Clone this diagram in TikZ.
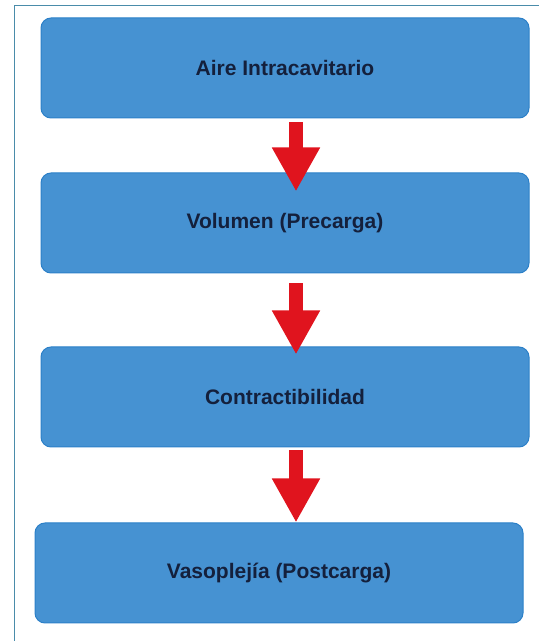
\documentclass[tikz,border=0pt]{standalone}
\usepackage{fontspec}
\setmainfont{Liberation Sans}
\usetikzlibrary{positioning,calc,arrows.meta}
\definecolor{boxfill}{RGB}{70,146,210}
\definecolor{boxedge}{RGB}{44,128,200}
\definecolor{boxtext}{RGB}{20,32,60}
\definecolor{arrowred}{RGB}{224,20,30}
\definecolor{framecol}{RGB}{74,140,170}
\begin{document}
\begin{tikzpicture}[x=1pt, y=1pt,
      every node/.style={rectangle, rounded corners=10pt, draw=boxedge, line width=1pt, fill=boxfill,
        minimum width=488pt, minimum height=100pt, inner sep=0pt,
        text=boxtext, font=\fontsize{21}{25}\selectfont\bfseries},
      flow/.style={arrowred, line width=14pt, -{Triangle[width=45pt, length=44pt]}}]
      \useasboundingbox (0,0) rectangle (539,641);
      \draw[framecol, line width=1.5pt] (14.5,0) |- (539,635.5);
      \node (aire) at (285,573) {Aire Intracavitario};
      \node (volumen) [below=54pt of aire] {Volumen (Precarga)};
      \node (contract) [below=73pt of volumen] {Contractibilidad};
      \node (vaso) [below=75pt of contract, xshift=-6pt] {Vasoplejía (Postcarga)};
      \draw[flow] ($(aire.south)+(11,-4)$) -- ($(volumen.north)+(11,-19)$);
      \draw[flow] ($(volumen.south)+(11,-10)$) -- ($(contract.north)+(11,-8)$);
      \draw[flow] ($(contract.south)+(11,-3)$) -- ($(vaso.north)+(17,0)$);
    \end{tikzpicture}
\end{document}
